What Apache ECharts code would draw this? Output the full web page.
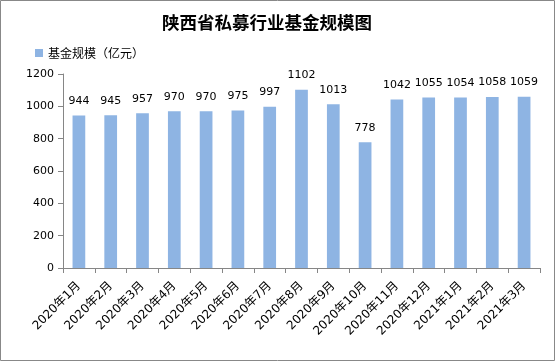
<!DOCTYPE html>
<html><head><meta charset="utf-8">
<script src="https://cdn.jsdelivr.net/npm/echarts@6/dist/echarts.min.js"></script>
<style>html,body{margin:0;padding:0;background:#fff}#c{width:556px;height:362px}</style>
</head><body><div id="c"></div>
<script>
var categories = ['2020年1月','2020年2月','2020年3月','2020年4月','2020年5月','2020年6月','2020年7月','2020年8月','2020年9月','2020年10月','2020年11月','2020年12月','2021年1月','2021年2月','2021年3月'];
var values = [944,945,957,970,970,975,997,1102,1013,778,1042,1055,1054,1058,1059];
var seriesName = '基金规模（亿元）';
var titleText = '陕西省私募行业基金规模图';
var chart = echarts.init(document.getElementById('c'));
var font = '"Noto Sans CJK SC", "Noto Sans", sans-serif';
var numFont = '"DejaVu Sans", "Noto Sans CJK SC", sans-serif';
chart.setOption({
  animation: false,
  textStyle: {fontFamily: font},
  graphic: [{type:'rect', shape:{x:0.5,y:0.5,width:554,height:360}, style:{fill:'none', stroke:'#888', lineWidth:1}, silent:true}],
  title: {text: titleText, left: 157, top: 9, textStyle:{fontSize:17.5, fontWeight:'bold', color:'#000', fontFamily: font}},
  legend: {left: 30, top: 42, itemWidth: 8, itemHeight: 8, itemGap: 5, icon:'rect',
    textStyle:{fontSize:12, color:'#000', fontFamily: font}, data:[seriesName]},
  grid: {left: 63, right: 16, top: 74, bottom: 94},
  xAxis: {type:'category', data: categories,
    axisLine:{lineStyle:{color:'#868686'}},
    axisTick:{show:true, length:5, lineStyle:{color:'#868686'}},
    axisLabel:{rotate:45, fontSize:12, color:'#000', margin:16, interval:0, fontFamily: numFont}},
  yAxis: {type:'value', min:0, max:1200, interval:200,
    axisLine:{show:true, lineStyle:{color:'#868686'}},
    axisTick:{show:true, length:5, lineStyle:{color:'#868686'}},
    splitLine:{show:false},
    axisLabel:{fontSize:11, color:'#000', margin:9, fontFamily: numFont, formatter: function(v){return String(v);}}},
  series: [{type:'bar', name: seriesName, data: values, barWidth:'40%',
    itemStyle:{color:'#8EB4E3'},
    label:{show:true, position:'top', distance:9, fontSize:11, color:'#000', fontFamily: numFont}}]
});
</script></body></html>
